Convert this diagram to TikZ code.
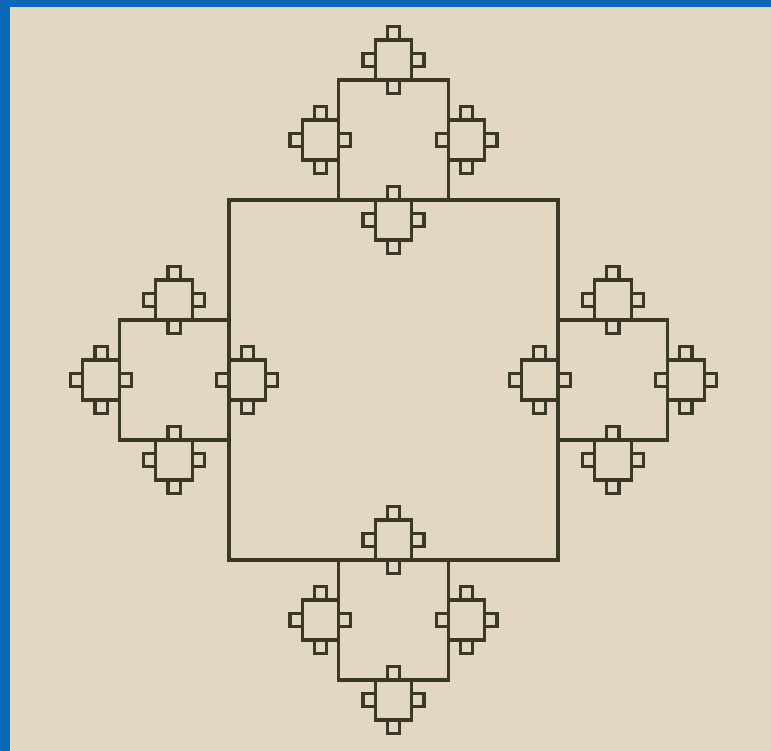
\documentclass[tikz,border=0pt]{standalone}
\usetikzlibrary{calc}
\definecolor{bluebg}{HTML}{0A68B4}
\definecolor{paper}{HTML}{E1D7C3}
\definecolor{ink}{HTML}{3A3829}
\tikzset{
  sq/.style={draw=ink, line width=3.2pt, line join=miter},
}
\newcommand{\mysq}[4]{% cx cy w h
  \draw[sq] (#1-#3/2,#2-#4/2) rectangle (#1+#3/2,#2+#4/2);
}
\begin{document}
\begin{tikzpicture}[x=1pt,y=-1pt]
\useasboundingbox (0,0) rectangle (771,751);
\fill[bluebg] (0,0) rectangle (771,751);
\fill[paper] (10,7) rectangle (771,751);
\def\cx{393.5}\def\cy{380}
\def\W{329}\def\H{360}
\mysq{\cx}{\cy}{\W}{\H}
\foreach \a/\b in {1/0,-1/0,0/1,0/-1} {
  \pgfmathsetmacro\xa{\cx+\a*2*\W/3}
  \pgfmathsetmacro\ya{\cy+\b*2*\H/3}
  \mysq{\xa}{\ya}{\W/3}{\H/3}
  \foreach \c/\d in {1/0,-1/0,0/1,0/-1} {
    \pgfmathsetmacro\xb{\xa+\c*2*\W/9}
    \pgfmathsetmacro\yb{\ya+\d*2*\H/9}
    \mysq{\xb}{\yb}{\W/9}{\H/9}
    \foreach \e/\f in {1/0,-1/0,0/1,0/-1} {
      \pgfmathsetmacro\xc{\xb+\e*2*\W/27}
      \pgfmathsetmacro\yc{\yb+\f*2*\H/27}
      \mysq{\xc}{\yc}{\W/27}{\H/27}
    }
  }
}
\end{tikzpicture}
\end{document}
